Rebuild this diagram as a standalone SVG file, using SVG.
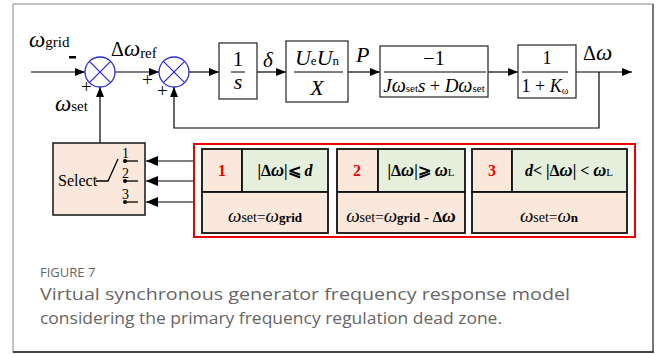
<svg xmlns="http://www.w3.org/2000/svg" width="658" height="354" viewBox="0 0 658 354">
  <defs>
    <marker id="arr" viewBox="0 0 10 8" refX="10" refY="4" markerWidth="10" markerHeight="8" markerUnits="userSpaceOnUse" orient="auto">
      <path d="M0,0 L10,4 L0,8 Z" fill="#000"/>
    </marker>
    <marker id="arrBig" viewBox="0 0 12 10" refX="12" refY="5" markerWidth="12" markerHeight="10" markerUnits="userSpaceOnUse" orient="auto">
      <path d="M0,0 L12,5 L0,10 Z" fill="#000"/>
    </marker>
  </defs>
  <style>
    .m { font-family: "Liberation Serif", "DejaVu Serif", serif; fill: #000; }
    .i { font-style: italic; }
    .w { font-style: italic; font-size: 23px; }
    .blk { fill: #fff; stroke: #333; stroke-width: 1.3; }
    .sum { fill: #fff; stroke: #2a2ad8; stroke-width: 1.3; }
    .x { stroke: #2a2ad8; stroke-width: 1.2; }
    .ln { stroke: #000; stroke-width: 1.2; fill: none; }
    .peach { fill: #fbe8dc; stroke: #111; stroke-width: 1.8; }
    .green { fill: #e6eedc; stroke: #111; stroke-width: 1.8; }
    .red { fill: #e00; font-weight: bold; }
    .cap { font-family: "Open Sans", "Liberation Sans", sans-serif; fill: #666; }
  </style>

  <!-- card frame -->
  <rect x="13" y="4" width="640" height="348" fill="#fff" stroke="#9a9a9a" stroke-width="1.2"/>
  <line x1="653" y1="4" x2="653" y2="352" stroke="#777" stroke-width="2"/>
  <line x1="13" y1="352" x2="654" y2="352" stroke="#444" stroke-width="2"/>

  <!-- connectors -->
  <g id="connectors">
    <line class="ln" x1="31" y1="72" x2="85" y2="72" marker-end="url(#arr)"/>
    <line class="ln" x1="100" y1="143" x2="100" y2="87" marker-end="url(#arr)"/>
    <line class="ln" x1="115" y1="72" x2="159" y2="72" marker-end="url(#arr)"/>
    <line class="ln" x1="189" y1="72" x2="219" y2="72" marker-end="url(#arr)"/>
    <line class="ln" x1="257" y1="72" x2="286" y2="72" marker-end="url(#arr)"/>
    <line class="ln" x1="348" y1="72" x2="380" y2="72" marker-end="url(#arr)"/>
    <line class="ln" x1="488" y1="72" x2="518" y2="72" marker-end="url(#arr)"/>
    <line class="ln" x1="576" y1="72" x2="632" y2="72" marker-end="url(#arr)"/>
    <polyline class="ln" points="599,72 599,128 174,128 174,87" stroke="#333" marker-end="url(#arr)"/>
    <line class="ln" x1="194" y1="161" x2="146" y2="161" stroke-width="1.8" marker-end="url(#arrBig)"/>
    <line class="ln" x1="194" y1="181" x2="146" y2="181" stroke-width="1.8" marker-end="url(#arrBig)"/>
    <line class="ln" x1="194" y1="202" x2="146" y2="202" stroke-width="1.8" marker-end="url(#arrBig)"/>
  </g>

  <!-- signal labels -->
  <g id="labels">
    <text class="m" x="29" y="47"><tspan class="w">ω</tspan><tspan font-size="15">grid</tspan></text>
    <rect x="69" y="56" width="7" height="2.5" fill="#000"/>
    <text class="m" x="81" y="93" font-size="19">+</text>
    <text class="m" x="55" y="111"><tspan class="w">ω</tspan><tspan font-size="15">set</tspan></text>
    <text class="m" x="111" y="56"><tspan font-size="20">Δ</tspan><tspan class="w">ω</tspan><tspan font-size="15" dy="2">ref</tspan></text>
    <text class="m" x="142" y="86" font-size="19">+</text>
    <text class="m" x="157" y="97" font-size="19">+</text>
    <text class="m i" x="263" y="67" font-size="21">δ</text>
    <text class="m i" x="356" y="62" font-size="22">P</text>
    <text class="m" x="583" y="60"><tspan font-size="20">Δ</tspan><tspan class="w">ω</tspan></text>
  </g>

  <!-- summing junctions -->
  <g id="sum1">
    <circle class="sum" cx="100" cy="72" r="15"/>
    <line class="x" x1="89.4" y1="61.4" x2="110.6" y2="82.6"/>
    <line class="x" x1="89.4" y1="82.6" x2="110.6" y2="61.4"/>
  </g>
  <g id="sum2">
    <circle class="sum" cx="174" cy="72" r="15"/>
    <line class="x" x1="163.4" y1="61.4" x2="184.6" y2="82.6"/>
    <line class="x" x1="163.4" y1="82.6" x2="184.6" y2="61.4"/>
  </g>

  <!-- integrator 1/s -->
  <g id="integrator">
    <rect class="blk" x="219" y="43" width="38" height="56"/>
    <text class="m" x="238" y="66" font-size="21" text-anchor="middle">1</text>
    <line x1="231" y1="72" x2="245" y2="72" stroke="#000" stroke-width="1"/>
    <text class="m i" x="238" y="89" font-size="22" text-anchor="middle">s</text>
  </g>

  <!-- power gain UeUn/X -->
  <g id="power">
    <rect class="blk" x="286" y="41" width="62" height="61"/>
    <text class="m" x="317" y="65" text-anchor="middle"><tspan class="i" font-size="22">U</tspan><tspan font-size="13">e</tspan><tspan class="i" font-size="22">U</tspan><tspan font-size="13">n</tspan></text>
    <line x1="294" y1="72" x2="343" y2="72" stroke="#000" stroke-width="1"/>
    <text class="m i" x="317" y="95" font-size="22" text-anchor="middle">X</text>
  </g>

  <!-- inertia block -->
  <g id="inertia">
    <rect class="blk" x="380" y="46" width="108" height="51"/>
    <text class="m" x="434" y="65" font-size="20" text-anchor="middle">−1</text>
    <line x1="384" y1="72" x2="486" y2="72" stroke="#000" stroke-width="1"/>
    <text class="m" x="434" y="92" text-anchor="middle"><tspan class="i" font-size="19">J</tspan><tspan class="i" font-size="20">ω</tspan><tspan font-size="11">set</tspan><tspan class="i" font-size="19">s</tspan><tspan font-size="18"> + </tspan><tspan class="i" font-size="19">D</tspan><tspan class="i" font-size="20">ω</tspan><tspan font-size="11">set</tspan></text>
  </g>

  <!-- droop block -->
  <g id="droop">
    <rect class="blk" x="518" y="45" width="58" height="53"/>
    <text class="m" x="547" y="64" font-size="18" text-anchor="middle">1</text>
    <line x1="522" y1="72" x2="568" y2="72" stroke="#000" stroke-width="1"/>
    <text class="m" x="545" y="92" text-anchor="middle"><tspan font-size="18">1 + </tspan><tspan class="i" font-size="18">K</tspan><tspan font-size="10" dy="2">ω</tspan></text>
  </g>

  <!-- selector switch -->
  <g id="select">
    <rect x="53" y="143" width="92" height="72" fill="#fbe8dc" stroke="#222" stroke-width="1.6"/>
    <text class="m" x="58" y="186" font-size="16">Select</text>
    <polyline points="96,181 108,181 118,159" fill="none" stroke="#000" stroke-width="1.3"/>
    <circle cx="125" cy="161" r="2" fill="#000"/>
    <circle cx="125" cy="181" r="2" fill="#000"/>
    <circle cx="125" cy="202" r="2" fill="#000"/>
    <line x1="125" y1="161" x2="138" y2="161" stroke="#000" stroke-width="1.3"/>
    <line x1="125" y1="181" x2="138" y2="181" stroke="#000" stroke-width="1.3"/>
    <line x1="125" y1="202" x2="138" y2="202" stroke="#000" stroke-width="1.3"/>
    <text class="m" x="122" y="158" font-size="14" fill="#e00">1</text>
    <text class="m" x="122" y="178" font-size="14" fill="#e00">2</text>
    <text class="m" x="122" y="199" font-size="14" fill="#e00">3</text>
  </g>

  <!-- mode table -->
  <g id="modes">
    <rect x="194" y="144" width="441" height="93" fill="#fff" stroke="#e00" stroke-width="2"/>
  </g>
  <g id="mode1">
    <rect class="peach" x="202" y="149" width="40" height="43"/>
    <rect class="green" x="242" y="149" width="86" height="43"/>
    <rect class="peach" x="202" y="192" width="126" height="41"/>
    <text class="m red" x="222" y="176" font-size="16" text-anchor="middle">1</text>
    <text class="m" x="285" y="176" font-size="16" font-weight="bold" text-anchor="middle">|Δ<tspan class="i" font-size="18">ω</tspan>|⩽ <tspan class="i">d</tspan></text>
    <text class="m" x="265" y="222" text-anchor="middle"><tspan class="i" font-size="19">ω</tspan><tspan font-size="14">set</tspan><tspan font-size="15">=</tspan><tspan class="i" font-size="19">ω</tspan><tspan font-size="13" font-weight="bold">grid</tspan></text>
  </g>
  <g id="mode2">
    <rect class="peach" x="337" y="149" width="41" height="43"/>
    <rect class="green" x="378" y="149" width="87" height="43"/>
    <rect class="peach" x="337" y="192" width="128" height="41"/>
    <text class="m red" x="357" y="176" font-size="16" text-anchor="middle">2</text>
    <text class="m" x="421" y="176" font-size="16" font-weight="bold" text-anchor="middle">|Δ<tspan class="i" font-size="18">ω</tspan>|⩾ <tspan class="i" font-size="18">ω</tspan><tspan font-size="11" font-weight="normal">L</tspan></text>
    <text class="m" x="401" y="222" text-anchor="middle"><tspan class="i" font-size="19">ω</tspan><tspan font-size="14">set</tspan><tspan font-size="15">=</tspan><tspan class="i" font-size="19">ω</tspan><tspan font-size="13" font-weight="bold">grid</tspan><tspan font-size="15" font-weight="bold"> - Δ</tspan><tspan class="i" font-size="19" font-weight="bold">ω</tspan></text>
  </g>
  <g id="mode3">
    <rect class="peach" x="472" y="149" width="40" height="43"/>
    <rect class="green" x="512" y="149" width="115" height="43"/>
    <rect class="peach" x="472" y="192" width="155" height="41"/>
    <text class="m red" x="492" y="176" font-size="16" text-anchor="middle">3</text>
    <text class="m" x="569" y="176" font-size="16" font-weight="bold" text-anchor="middle"><tspan class="i">d</tspan>&lt; |Δ<tspan class="i" font-size="18">ω</tspan>| &lt; <tspan class="i" font-size="18">ω</tspan><tspan font-size="11" font-weight="normal">L</tspan></text>
    <text class="m" x="549" y="222" text-anchor="middle"><tspan class="i" font-size="19">ω</tspan><tspan font-size="14">set</tspan><tspan font-size="15">=</tspan><tspan class="i" font-size="19">ω</tspan><tspan font-size="13" font-weight="bold">n</tspan></text>
  </g>

  <!-- caption -->
  <g id="caption">
    <text class="cap" x="40" y="277" font-size="13">FIGURE 7</text>
    <text class="cap" x="40" y="300" font-size="17" textLength="530" lengthAdjust="spacingAndGlyphs">Virtual synchronous generator frequency response model</text>
    <text class="cap" x="40" y="324" font-size="17" textLength="462" lengthAdjust="spacingAndGlyphs">considering the primary frequency regulation dead zone.</text>
  </g>
</svg>
